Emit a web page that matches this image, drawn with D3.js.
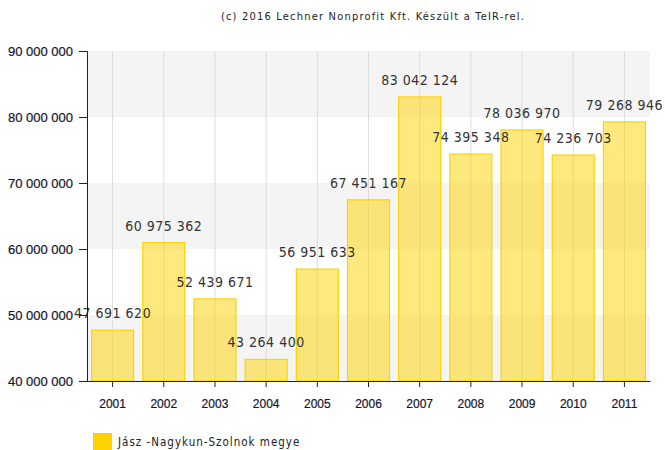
<!DOCTYPE html>
<html>
<head>
<meta charset="utf-8">
<script src="https://cdn.jsdelivr.net/npm/d3@7"></script>
<style>
body { margin: 0; background: #fff; }
svg { font-family: "DejaVu Sans Condensed", "DejaVu Sans", sans-serif; }
</style>
</head>
<body>
<div id="chart"></div>
<script>
var years = ["2001", "2002", "2003", "2004", "2005", "2006", "2007", "2008", "2009", "2010", "2011"];
var values = [47691620, 60975362, 52439671, 43264400, 56951633, 67451167, 83042124, 74395348, 78036970, 74236703, 79268946];
var yTicks = [40000000, 50000000, 60000000, 70000000, 80000000, 90000000];
var seriesName = "Jász -Nagykun-Szolnok megye";
var title = "(c) 2016 Lechner Nonprofit Kft. Készült a TeIR-rel.";

var margin = {top: 51, right: 15, bottom: 69, left: 87};
var width = 665 - margin.left - margin.right,
    height = 450 - margin.top - margin.bottom;

var fmt = function(v) { return d3.format(",")(v).replace(/,/g, " "); };

var x = d3.scaleBand()
    .domain(years)
    .range([0, width])
    .paddingInner(0.18)
    .paddingOuter(0.09);

var y = d3.scaleLinear()
    .domain([40000000, 90000000])
    .range([height, 0]);

var svg = d3.select("#chart").append("svg")
    .attr("width", 665)
    .attr("height", 450);

svg.append("text")
    .attr("x", 373)
    .attr("y", 20)
    .attr("text-anchor", "middle")
    .style("font-size", "11px")
    .style("letter-spacing", "1.2px")
    .style("fill", "#222")
    .text(title);

var g = svg.append("g")
    .attr("transform", "translate(" + margin.left + "," + margin.top + ")");

// alternating bands
for (var i = 0; i < yTicks.length - 1; i++) {
    g.append("rect")
        .attr("x", 0)
        .attr("y", y(yTicks[i + 1]))
        .attr("width", width)
        .attr("height", y(yTicks[i]) - y(yTicks[i + 1]))
        .style("fill", i % 2 == 0 ? "#f4f4f4" : "#ffffff");
}

// vertical grid
g.selectAll(".vgrid")
    .data(years)
    .enter().append("line")
    .attr("class", "vgrid")
    .attr("x1", function(d) { return x(d) + x.bandwidth() / 2; })
    .attr("x2", function(d) { return x(d) + x.bandwidth() / 2; })
    .attr("y1", 0)
    .attr("y2", height)
    .style("stroke", "#dcdcdc")
    .style("stroke-width", 1);

g.selectAll(".bar")
    .data(values)
    .enter().append("rect")
    .attr("class", "bar")
    .attr("x", function(d, i) { return x(years[i]); })
    .attr("y", function(d) { return y(d); })
    .attr("width", x.bandwidth())
    .attr("height", function(d) { return height - y(d); })
    .style("fill", "rgba(255, 212, 0, 0.5)")
    .style("stroke", "#ffd200")
    .style("stroke-width", 1.2);

g.selectAll(".lbl")
    .data(values)
    .enter().append("text")
    .attr("class", "lbl")
    .attr("x", function(d, i) { return x(years[i]) + x.bandwidth() / 2; })
    .attr("y", function(d) { return y(d) - 12; })
    .attr("text-anchor", "middle")
    .style("font-size", "14px")
    .style("letter-spacing", "0.5px")
    .style("fill", "#333")
    .text(function(d) { return fmt(d); });

var yAxis = g.append("g")
    .call(d3.axisLeft(y).tickValues(yTicks).tickSize(8).tickPadding(6).tickFormat(fmt));
yAxis.selectAll("text").style("font-size", "13px").style("fill", "#14142e")
    .style("stroke", "#14142e").style("stroke-width", 0.2);
yAxis.selectAll("line, path").style("stroke", "#222");

var xAxis = g.append("g")
    .attr("transform", "translate(0," + height + ")")
    .call(d3.axisBottom(x).tickSize(6).tickSizeOuter(0).tickPadding(12));
xAxis.selectAll("text").style("font-size", "12px").style("fill", "#14142e")
    .style("stroke", "#14142e").style("stroke-width", 0.2);
xAxis.selectAll("line, path").style("stroke", "#222");

// legend
var legend = svg.append("g").attr("transform", "translate(93,433)");
legend.append("rect")
    .attr("width", 19)
    .attr("height", 17)
    .style("fill", "#ffd200");
legend.append("text")
    .attr("x", 25)
    .attr("y", 13)
    .style("font-size", "11.5px")
    .style("letter-spacing", "1px")
    .style("fill", "#222")
    .text(seriesName);
</script>
</body>
</html>
